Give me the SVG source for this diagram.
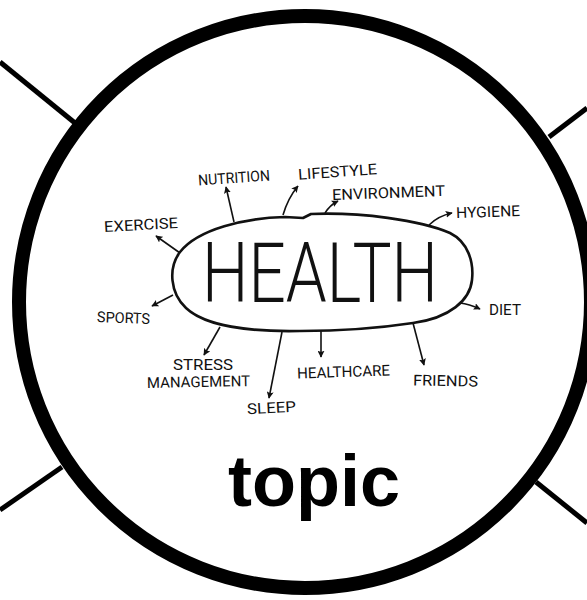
<svg xmlns="http://www.w3.org/2000/svg" width="587" height="600" viewBox="0 0 587 600">
<defs>
<marker id="ah" viewBox="0 0 10 10" refX="9" refY="5" markerWidth="7" markerHeight="7" markerUnits="userSpaceOnUse" orient="auto">
<path d="M0,0 L10,5 L0,10 L2,5 Z" fill="#111"/>
</marker>
<style>
.spoke{stroke:#000;stroke-width:5;fill:none}
.arr{stroke:#111;stroke-width:1.6;fill:none;marker-end:url(#ah)}
.lbl{font-family:Roboto,"Liberation Sans",sans-serif;font-weight:400;font-size:15px;fill:#111}
.big{font-family:Roboto,"Liberation Sans",sans-serif;font-weight:300;font-size:64px;fill:#111}
.topic{font-family:"Liberation Sans",Arial,sans-serif;font-weight:bold;font-size:72px;fill:#000}
</style>
</defs>
<rect width="587" height="600" fill="#fff"/>
<g id="connectors">
<line class="spoke" x1="0" y1="62" x2="75" y2="123"/>
<line class="spoke" x1="587" y1="108" x2="549" y2="137"/>
<line class="spoke" x1="0" y1="510" x2="62" y2="467"/>
<line class="spoke" x1="536" y1="482" x2="587" y2="523"/>
<path class="arr" d="M234,222 L226,187"/>
<path class="arr" d="M180,253 L156,236"/>
<path class="arr" d="M283,215 Q288,198 298,186"/>
<path class="arr" d="M325,213 Q330,205 338,201"/>
<path class="arr" d="M429,225 Q438,216 452,213"/>
<path class="arr" d="M173,295 L152,306"/>
<path class="arr" d="M220,327 L204,355"/>
<path class="arr" d="M282,332 L269,398"/>
<path class="arr" d="M321,330 L321,357"/>
<path class="arr" d="M413,323 L424,365"/>
<path class="arr" d="M460,303 Q469,304 480,309"/>
</g>
<g id="topic-node">
<circle cx="305" cy="302" r="286" fill="none" stroke="#000" stroke-width="14"/>
<text class="topic" x="314" y="506" text-anchor="middle">topic</text>
</g>
<g id="health-node">
<path d="M311,214 C360,212 420,220 450,233 C468,242 474,262 472,280 C470,300 450,318 413,323 C380,328 340,331 300,331 C250,332 205,326 186,308 C170,293 168,268 180,252 C198,229 245,218 285,217 L303,218 Z" fill="none" stroke="#111" stroke-width="2.6" stroke-linejoin="round"/>
<text class="big" x="0" y="0" textLength="236" lengthAdjust="spacingAndGlyphs" transform="translate(202 302) scale(1 1.3)">HEALTH</text>
</g>
<g id="label-nutrition"><text class="lbl" x="198" y="183" textLength="72" lengthAdjust="spacingAndGlyphs" transform="rotate(-4 234 178)">NUTRITION</text></g>
<g id="label-lifestyle"><text class="lbl" x="298" y="177" textLength="79" lengthAdjust="spacingAndGlyphs" transform="rotate(-4 337 171)">LIFESTYLE</text></g>
<g id="label-environment"><text class="lbl" x="332" y="198" textLength="113" lengthAdjust="spacingAndGlyphs" transform="rotate(-2 388 192)">ENVIRONMENT</text></g>
<g id="label-hygiene"><text class="lbl" x="456" y="217" textLength="64" lengthAdjust="spacingAndGlyphs" transform="rotate(-2 488 211)">HYGIENE</text></g>
<g id="label-exercise"><text class="lbl" x="104" y="230" textLength="74" lengthAdjust="spacingAndGlyphs" transform="rotate(-3 141 224)">EXERCISE</text></g>
<g id="label-sports"><text class="lbl" x="97" y="323" textLength="53" lengthAdjust="spacingAndGlyphs" transform="rotate(2 123 318)">SPORTS</text></g>
<g id="label-stress">
<text class="lbl" x="173" y="370" textLength="60" lengthAdjust="spacingAndGlyphs">STRESS</text>
<text class="lbl" x="147" y="387" textLength="103" lengthAdjust="spacingAndGlyphs" transform="rotate(-1 198 381)">MANAGEMENT</text>
</g>
<g id="label-sleep"><text class="lbl" x="247" y="413" textLength="49" lengthAdjust="spacingAndGlyphs" transform="rotate(-3 271 408)">SLEEP</text></g>
<g id="label-healthcare"><text class="lbl" x="297" y="377" textLength="93" lengthAdjust="spacingAndGlyphs" transform="rotate(-2 343 370)">HEALTHCARE</text></g>
<g id="label-friends"><text class="lbl" x="413" y="386" textLength="65" lengthAdjust="spacingAndGlyphs" transform="rotate(1 445 380)">FRIENDS</text></g>
<g id="label-diet"><text class="lbl" x="489" y="315" textLength="32" lengthAdjust="spacingAndGlyphs">DIET</text></g>
</svg>
